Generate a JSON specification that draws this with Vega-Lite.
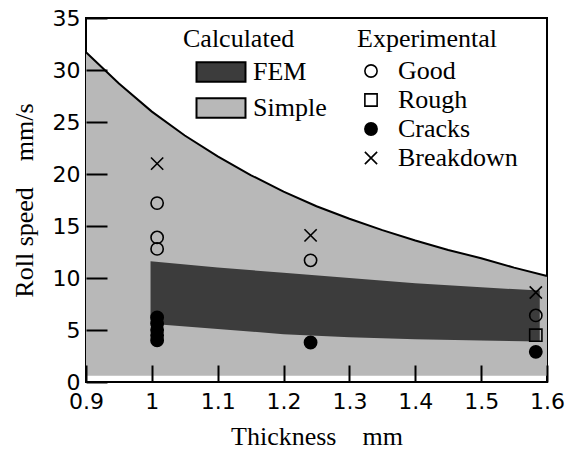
{
  "$schema": "https://vega.github.io/schema/vega-lite/v6.json",
  "autosize": {"type": "none"},
  "padding": {"left": 86, "top": 18, "right": 27, "bottom": 69},
  "width": 461,
  "height": 364,
  "background": "white",
  "config": {
    "view": {"stroke": "black", "strokeWidth": 2},
    "axis": {
      "domain": false,
      "grid": false,
      "ticks": true,
      "tickColor": "black",
      "tickWidth": 2,
      "labelColor": "black",
      "labelFont": "DejaVu Sans",
      "labelFontSize": 22,
      "titleColor": "black",
      "titleFont": "Liberation Serif",
      "titleFontSize": 26,
      "titleFontWeight": "normal"
    },
    "legend": {
      "titleFont": "Liberation Serif",
      "titleFontSize": 26,
      "titleFontWeight": "normal",
      "titleColor": "black",
      "labelFont": "Liberation Serif",
      "labelFontSize": 26,
      "labelColor": "black"
    }
  },
  "datasets": {
    "simple": [
      {"thickness": 0.9, "upper": 31.7, "lower": 0.6, "region": "Simple"},
      {"thickness": 0.95, "upper": 28.7, "lower": 0.6, "region": "Simple"},
      {"thickness": 1.0, "upper": 26.0, "lower": 0.6, "region": "Simple"},
      {"thickness": 1.05, "upper": 23.7, "lower": 0.6, "region": "Simple"},
      {"thickness": 1.1, "upper": 21.7, "lower": 0.6, "region": "Simple"},
      {"thickness": 1.15, "upper": 19.9, "lower": 0.6, "region": "Simple"},
      {"thickness": 1.2, "upper": 18.3, "lower": 0.6, "region": "Simple"},
      {"thickness": 1.25, "upper": 16.9, "lower": 0.6, "region": "Simple"},
      {"thickness": 1.3, "upper": 15.7, "lower": 0.6, "region": "Simple"},
      {"thickness": 1.35, "upper": 14.6, "lower": 0.6, "region": "Simple"},
      {"thickness": 1.4, "upper": 13.6, "lower": 0.6, "region": "Simple"},
      {"thickness": 1.45, "upper": 12.7, "lower": 0.6, "region": "Simple"},
      {"thickness": 1.5, "upper": 11.9, "lower": 0.6, "region": "Simple"},
      {"thickness": 1.55, "upper": 11.0, "lower": 0.6, "region": "Simple"},
      {"thickness": 1.6, "upper": 10.2, "lower": 0.6, "region": "Simple"}
    ],
    "fem": [
      {"thickness": 0.998, "upper": 11.6, "lower": 5.6, "region": "FEM"},
      {"thickness": 1.1, "upper": 11.0, "lower": 5.1, "region": "FEM"},
      {"thickness": 1.2, "upper": 10.5, "lower": 4.6, "region": "FEM"},
      {"thickness": 1.3, "upper": 10.0, "lower": 4.3, "region": "FEM"},
      {"thickness": 1.4, "upper": 9.5, "lower": 4.1, "region": "FEM"},
      {"thickness": 1.5, "upper": 9.1, "lower": 4.0, "region": "FEM"},
      {"thickness": 1.589, "upper": 8.8, "lower": 3.9, "region": "FEM"}
    ],
    "points": [
      {"thickness": 1.008, "speed": 21.0, "result": "Breakdown"},
      {"thickness": 1.008, "speed": 17.2, "result": "Good"},
      {"thickness": 1.008, "speed": 13.9, "result": "Good"},
      {"thickness": 1.008, "speed": 12.8, "result": "Good"},
      {"thickness": 1.008, "speed": 6.2, "result": "Cracks"},
      {"thickness": 1.008, "speed": 5.6, "result": "Cracks"},
      {"thickness": 1.008, "speed": 5.0, "result": "Cracks"},
      {"thickness": 1.008, "speed": 4.5, "result": "Cracks"},
      {"thickness": 1.008, "speed": 4.0, "result": "Cracks"},
      {"thickness": 1.241, "speed": 14.1, "result": "Breakdown"},
      {"thickness": 1.241, "speed": 11.7, "result": "Good"},
      {"thickness": 1.241, "speed": 3.8, "result": "Cracks"},
      {"thickness": 1.583, "speed": 8.6, "result": "Breakdown"},
      {"thickness": 1.583, "speed": 6.4, "result": "Good"},
      {"thickness": 1.583, "speed": 4.5, "result": "Rough"},
      {"thickness": 1.583, "speed": 2.9, "result": "Cracks"}
    ]
  },
  "encoding": {
    "x": {
      "field": "thickness",
      "type": "quantitative",
      "scale": {"domain": [0.9, 1.6], "nice": false, "zero": false},
      "axis": {
        "title": "Thickness\u00a0\u00a0\u00a0\u00a0mm",
        "values": [0.9, 1.0, 1.1, 1.2, 1.3, 1.4, 1.5, 1.6],
        "labelExpr": "format(datum.value, '~g')",
        "zindex": 2,
        "offset": -17,
        "tickSize": 17,
        "labelPadding": 9,
        "titlePadding": 11,
        "labelFlush": false
      }
    }
  },
  "layer": [
    {
      "data": {"name": "simple"},
      "mark": {"type": "area", "stroke": null},
      "encoding": {
        "y": {
          "field": "upper",
          "type": "quantitative",
          "scale": {"domain": [0, 35], "nice": false},
          "axis": {
            "title": "Roll speed\u00a0\u00a0\u00a0\u00a0mm/s",
            "values": [0, 5, 10, 15, 20, 25, 30, 35],
            "zindex": 2,
            "offset": -21,
            "tickSize": 21,
            "labelPadding": 6,
            "titlePadding": 15,
            "labelFlush": false
          }
        },
        "y2": {"field": "lower"},
        "color": {
          "field": "region",
          "type": "nominal",
          "scale": {"domain": ["FEM", "Simple"], "range": ["#3c3c3c", "#b8b8b8"]},
          "legend": {
            "title": "Calculated",
            "orient": "none",
            "legendX": 97,
            "legendY": 8,
            "padding": 0,
            "symbolType": "M-2.5,-1H2.5V1H-2.5Z",
            "symbolSize": 384,
            "symbolStrokeColor": "black",
            "symbolStrokeWidth": 2,
            "symbolOpacity": 1,
            "symbolOffset": 25,
            "labelOffset": 19,
            "rowPadding": 8,
            "titlePadding": 7,
            "encode": {"symbols": {"update": {"stroke": {"value": "black"}, "strokeWidth": {"value": 2}}}}
          }
        }
      }
    },
    {
      "data": {"name": "simple"},
      "mark": {"type": "line", "color": "black", "strokeWidth": 2},
      "encoding": {
        "y": {"field": "upper", "type": "quantitative"}
      }
    },
    {
      "data": {"name": "fem"},
      "mark": {"type": "area", "stroke": null},
      "encoding": {
        "y": {"field": "upper", "type": "quantitative"},
        "y2": {"field": "lower"},
        "color": {"field": "region", "type": "nominal"}
      }
    },
    {
      "data": {"name": "points"},
      "mark": {"type": "point", "filled": false, "stroke": "black", "strokeWidth": 1.6, "size": 150, "opacity": 1},
      "encoding": {
        "y": {"field": "speed", "type": "quantitative"},
        "fill": {
          "condition": {"test": "datum.result === 'Cracks'", "value": "black"},
          "value": "transparent"
        },
        "shape": {
          "field": "result",
          "type": "nominal",
          "scale": {
            "domain": ["Good", "Rough", "Cracks", "Breakdown"],
            "range": ["circle", "square", "circle", "M-1,-1L1,1M-1,1L1,-1"]
          },
          "legend": {
            "title": "Experimental",
            "orient": "none",
            "legendX": 271,
            "legendY": 8,
            "padding": 0,
            "symbolStrokeColor": "black",
            "symbolStrokeWidth": 1.6,
            "symbolSize": 150,
            "symbolOffset": 1,
            "labelOffset": 14,
            "rowPadding": 3,
            "titlePadding": 6,
            "encoding": {
              "symbols": {
                "stroke": {"value": "black"},
                "strokeWidth": {"value": 1.6},
                "fill": {"condition": {"test": "datum.value === 'Cracks'", "value": "black"}, "value": "transparent"}
              }
            }
          }
        }
      }
    }
  ]
}
